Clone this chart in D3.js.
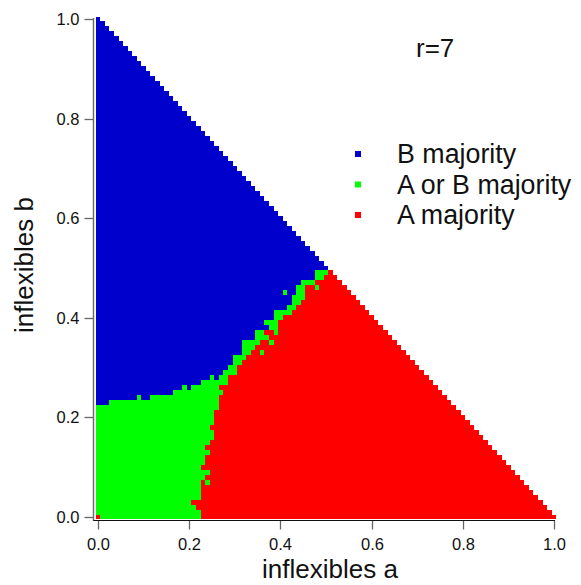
<!DOCTYPE html>
<html>
<head>
<meta charset="utf-8">
<script src="https://cdn.jsdelivr.net/npm/d3@7"></script>
<style>
  body { margin: 0; background: #fff; }
  svg { display: block; }
  text { font-family: "Liberation Sans", Arial, Helvetica, sans-serif; fill: #111; }
</style>
</head>
<body>
<svg id="chart" width="581" height="585"></svg>
<script>
// Outcome map over the fractions of inflexibles a (x) and b (y), sampled every 0.01, a + b <= 1.
const step = 0.01;

// For each row b = j * 0.01 (j = 0..50): how many cells from a = 0 are "B majority".
// Rows above b = 0.50 are entirely "B majority".
const blueEdge = [
  0, 0, 0, 0, 0, 0, 0, 0, 0, 0,
  0, 0, 0, 0, 0, 0, 0, 0, 0, 0,
  0, 0, 0, 3, 12, 17, 19, 23, 25, 28,
  29, 30, 30, 32, 32, 32, 35, 35, 38, 37,
  39, 39, 42, 43, 43, 44, 44, 45, 48, 48,
  51
];

// For each row j: index of a (0.01 steps) where "A majority" begins.
const redEdge = [
  23, 23, 22, 21, 23, 23, 23, 23, 24, 25,
  23, 24, 24, 25, 24, 25, 26, 26, 25, 26,
  26, 26, 27, 27, 27, 28, 27, 29, 29, 31,
  31, 32, 33, 34, 35, 36, 38, 37, 40, 40,
  41, 43, 44, 45, 46, 46, 46, 48, 50, 51,
  51
];

// Isolated cells that break the row pattern, as [a index, b index].
const greenCells = [[9, 24], [24, 7], [36, 33], [38, 35], [39, 37], [41, 45], [48, 46]];
const blueCells = [[20, 26], [26, 28]];
const redCells = [[0, 0]];

const categories = ["B majority", "A or B majority", "A majority"];
const colors = ["#0000cc", "#00ff00", "#ff0000"];
const xTicks = [0, 0.2, 0.4, 0.6, 0.8, 1.0];
const yTicks = [0, 0.2, 0.4, 0.6, 0.8, 1.0];
const annotation = "r=7";

const svg = d3.select("#chart");

const x = d3.scaleLinear().domain([0, 1]).rangeRound([98, 554]);
const y = d3.scaleLinear().domain([0, 1]).rangeRound([517, 19]);

// Classify each grid cell: 0 = B majority, 1 = A or B majority, 2 = A majority
const override = new Map();
greenCells.forEach(([i, j]) => override.set(i + "," + j, 1));
blueCells.forEach(([i, j]) => override.set(i + "," + j, 0));
redCells.forEach(([i, j]) => override.set(i + "," + j, 2));

function classify(i, j) {
  const key = i + "," + j;
  if (override.has(key)) return override.get(key);
  if (j >= blueEdge.length) return 0;
  if (i < blueEdge[j]) return 0;
  if (i < redEdge[j]) return 1;
  return 2;
}

// Merge consecutive cells of the same class in each row into one run
const runs = [];
for (let j = 0; j <= 100; j++) {
  let start = 0, cur = classify(0, j);
  for (let i = 1; i <= 100 - j + 1; i++) {
    const c = i <= 100 - j ? classify(i, j) : -1;
    if (c !== cur) {
      runs.push({ i0: start, i1: i - 1, j, cls: cur });
      start = i; cur = c;
    }
  }
}

svg.append("g")
  .selectAll("rect")
  .data(runs)
  .join("rect")
  .attr("x", d => x(d.i0 * step - step / 2))
  .attr("width", d => x(d.i1 * step + step / 2) - x(d.i0 * step - step / 2))
  .attr("y", d => y(d.j * step + step / 2))
  .attr("height", d => y(d.j * step - step / 2) - y(d.j * step + step / 2))
  .attr("fill", d => colors[d.cls]);

// Axes
const fmt = d3.format(".1f");
const xFrame = [-0.009, 1.003];
const yFrame = [-0.007, 1.002];
const axisX = x(xFrame[0]) - 0.5;
const axisY = y(yFrame[0]) + 0.5;

const gy = svg.append("g")
  .attr("transform", `translate(${axisX},0)`)
  .call(d3.axisLeft(y).tickValues(yTicks).tickFormat(fmt).tickSize(9).tickPadding(5));
gy.select(".domain").remove();
gy.selectAll(".tick line").attr("stroke", "#666").attr("stroke-width", 1.3);
gy.selectAll(".tick text").attr("font-size", 16.5).attr("fill", "#111")
  .attr("font-family", "Liberation Sans, Arial, sans-serif");

const gx = svg.append("g")
  .attr("transform", `translate(0,${axisY})`)
  .call(d3.axisBottom(x).tickValues(xTicks).tickFormat(fmt).tickSize(9).tickPadding(9));
gx.select(".domain").remove();
gx.selectAll(".tick line").attr("stroke", "#666").attr("stroke-width", 1.3);
gx.selectAll(".tick text").attr("font-size", 16.5).attr("fill", "#111")
  .attr("font-family", "Liberation Sans, Arial, sans-serif");

// Axis lines
svg.append("line")
  .attr("x1", axisX).attr("x2", axisX)
  .attr("y1", y(yFrame[0]) + 1).attr("y2", y(yFrame[1]))
  .attr("stroke", "#6a6a6a").attr("stroke-width", 1.4);
svg.append("line")
  .attr("x1", axisX).attr("x2", x(xFrame[1]))
  .attr("y1", axisY).attr("y2", axisY)
  .attr("stroke", "#111").attr("stroke-width", 1.2);

// Axis titles
svg.append("text")
  .attr("x", 330)
  .attr("y", 578)
  .attr("text-anchor", "middle")
  .attr("font-size", 26)
  .text("inflexibles a");

svg.append("text")
  .attr("transform", "translate(33,265) rotate(-90)")
  .attr("text-anchor", "middle")
  .attr("font-size", 26)
  .text("inflexibles b");

// Annotation
svg.append("text")
  .attr("x", 416)
  .attr("y", 57)
  .attr("font-size", 26)
  .text(annotation);

// Legend
const legend = svg.append("g").attr("transform", "translate(355,163)");
categories.forEach((name, k) => {
  const row = legend.append("g").attr("transform", `translate(0,${k * 30.5})`);
  row.append("rect")
    .attr("x", 0).attr("y", -12)
    .attr("width", 6).attr("height", 6)
    .attr("fill", colors[k]);
  row.append("text")
    .attr("x", 42).attr("y", 0)
    .attr("font-size", 26.8)
    .text(name);
});
</script>
</body>
</html>
